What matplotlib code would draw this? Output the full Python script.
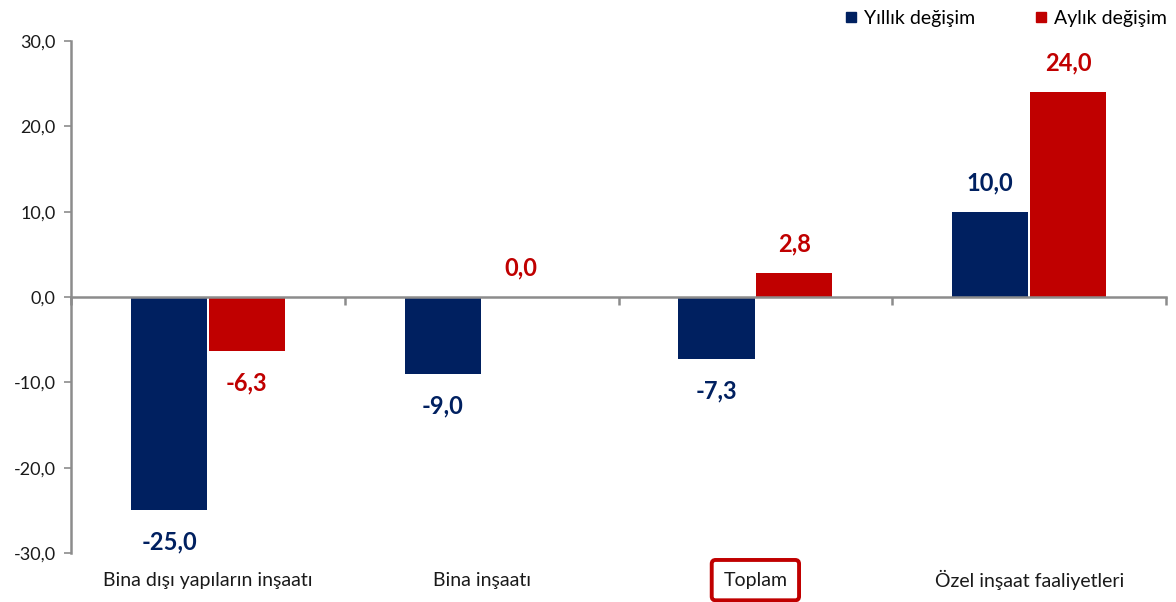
import matplotlib

matplotlib.use("Agg")
import matplotlib.pyplot as plt
import numpy as np
from matplotlib.lines import Line2D
from matplotlib.ticker import FuncFormatter, FixedLocator
from matplotlib.transforms import blended_transform_factory

plt.rcParams["font.family"] = ["Lato", "DejaVu Sans"]

categories = ["Bina dışı yapıların inşaatı", "Bina inşaatı", "Toplam", "Özel inşaat faaliyetleri"]
yillik = [-25.0, -9.0, -7.3, 10.0]
aylik = [-6.3, 0.0, 2.8, 24.0]
series_names = ["Yıllık değişim", "Aylık değişim"]

NAVY = "#002060"
RED = "#C00000"
GREY = "#8C8C8C"
TEXT = "#1a1a1a"


def comma(v, _pos=None):
    return f"{v:.1f}".replace(".", ",")


fig = plt.figure(figsize=(11.76, 6.02), dpi=100)
ax = fig.add_axes([0.0604, 0.0814, 0.9311, 0.8505])

x = np.arange(len(categories))
width = 0.278
off = 0.142
ax.bar(x - off, yillik, width, color=NAVY, zorder=2)
ax.bar(x + off, aylik, width, color=RED, zorder=2)

for series, sign, color in ((yillik, -1, NAVY), (aylik, 1, RED)):
    for xi, v in zip(x, series):
        dy = 21 if v >= 0 else -23
        ax.annotate(comma(v), (xi + sign * off, v), xytext=(0, dy),
                    textcoords="offset points", ha="center", va="center",
                    fontsize=17, fontweight="bold", color=color)

ax.set_xlim(-0.5, len(categories) - 0.5)
ax.set_ylim(-30, 30)
ax.set_yticks(np.arange(-30, 31, 10))
ax.yaxis.set_major_formatter(FuncFormatter(comma))
ax.tick_params(axis="y", direction="out", length=5, width=1.2, color=GREY,
               labelsize=13, labelcolor=TEXT, pad=6)

# x axis drawn at zero, boundary ticks only
ax.spines["bottom"].set_position(("data", 0))
ax.spines["bottom"].set_color(GREY)
ax.spines["bottom"].set_linewidth(1.8)
ax.spines["left"].set_color(GREY)
ax.spines["left"].set_linewidth(1.8)
ax.spines["top"].set_visible(False)
ax.spines["right"].set_visible(False)
ax.xaxis.set_major_locator(FixedLocator(np.arange(len(categories) + 1) - 0.5))
ax.tick_params(axis="x", direction="out", length=6, width=1.8, color=GREY,
               labelbottom=False)

trans = blended_transform_factory(ax.transData, ax.transAxes)
for xi, name in zip(x, categories):
    kw = {}
    if name == "Toplam":
        kw["bbox"] = dict(boxstyle="round,pad=0.6,rounding_size=0.2",
                          facecolor="white", edgecolor=RED, linewidth=2.8)
    ax.text(xi, -0.053, name, transform=trans, ha="center", va="center",
            fontsize=14, color=TEXT, **kw)

handles = [Line2D([], [], linestyle="none", marker="s", markersize=6.5,
                  color=c) for c in (NAVY, RED)]
fig.legend(handles, series_names, loc="upper right", bbox_to_anchor=(1.007, 1.012),
           ncol=2, frameon=False, fontsize=14, handletextpad=0.15,
           columnspacing=2.9, handlelength=1.0)

fig.savefig("out.png", dpi=100)
